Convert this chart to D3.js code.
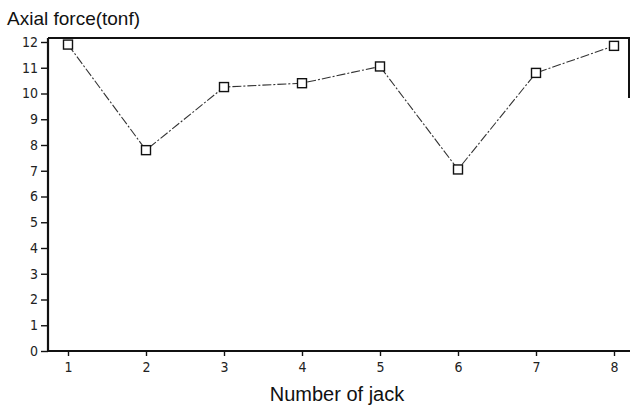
<!DOCTYPE html>
<html>
<head>
<meta charset="utf-8">
<script src="https://cdn.jsdelivr.net/npm/d3@7"></script>
<style>
  body { margin: 0; background: #fff; }
  svg { display: block; font-family: "Liberation Sans", Arial, sans-serif; }
</style>
</head>
<body>
<svg id="chart" width="632" height="408"></svg>
<script>
// data
const jacks = [1, 2, 3, 4, 5, 6, 7, 8];
const axialForce = [11.9, 7.8, 10.25, 10.4, 11.05, 7.05, 10.8, 11.85];
const yTicks = [0, 1, 2, 3, 4, 5, 6, 7, 8, 9, 10, 11, 12];

const svg = d3.select("#chart");
const width = 632, height = 408;
const margin = { top: 38, right: 2, bottom: 57, left: 48 };
const innerWidth = width - margin.left - margin.right;
const innerHeight = height - margin.top - margin.bottom;

const g = svg.append("g")
    .attr("transform", `translate(${margin.left},${margin.top})`);

const x = d3.scaleLinear()
    .domain([1, 8])
    .range([20, 566]);

const y = d3.scaleLinear()
    .domain([0, 12])
    .range([innerHeight, 4]);

// frame: top and right borders
g.append("line")
    .attr("x1", 0).attr("x2", innerWidth)
    .attr("y1", 0).attr("y2", 0)
    .attr("stroke", "#111").attr("stroke-width", 2);
g.append("line")
    .attr("x1", innerWidth - 1).attr("x2", innerWidth - 1)
    .attr("y1", 0).attr("y2", 60)
    .attr("stroke", "#111").attr("stroke-width", 2);

// axes
const xAxisG = g.append("g")
    .attr("transform", `translate(0,${innerHeight})`)
    .call(d3.axisBottom(x).tickValues(jacks).tickFormat(d3.format("d"))
        .tickSize(5).tickPadding(6).tickSizeOuter(0));
xAxisG.select(".domain").attr("d", `M0,0H${innerWidth}`);

const yAxisG = g.append("g")
    .call(d3.axisLeft(y).tickValues(yTicks).tickFormat(d3.format("d"))
        .tickSize(7).tickPadding(3).tickSizeOuter(0));
yAxisG.select(".domain").attr("d", `M0,${innerHeight}V0`);

g.selectAll(".domain").attr("stroke", "#111").attr("stroke-width", 2.2);
g.selectAll(".tick line").attr("stroke", "#111").attr("stroke-width", 1.4);
g.selectAll(".tick text")
    .attr("fill", "#222")
    .style("font-size", "14px")
    .style("font-family", "'DejaVu Sans Condensed', 'DejaVu Sans', sans-serif");

// line
const line = d3.line()
    .x((d, i) => x(jacks[i]))
    .y(d => y(d));

g.append("path")
    .datum(axialForce)
    .attr("fill", "none")
    .attr("stroke", "#333")
    .attr("stroke-width", 1.1)
    .attr("stroke-dasharray", "9,2,2,2")
    .attr("d", line);

// square markers
g.selectAll("rect.marker")
    .data(axialForce)
    .join("rect")
    .attr("class", "marker")
    .attr("x", (d, i) => x(jacks[i]) - 4.5)
    .attr("y", d => y(d) - 4.5)
    .attr("width", 9)
    .attr("height", 9)
    .attr("fill", "#fff")
    .attr("stroke", "#111")
    .attr("stroke-width", 1.4);

// labels
svg.append("text")
    .attr("x", 7).attr("y", 25)
    .attr("fill", "#111")
    .style("font-size", "19px")
    .text("Axial force(tonf)");

svg.append("text")
    .attr("x", 337).attr("y", 401)
    .attr("fill", "#111")
    .style("text-anchor", "middle")
    .style("font-size", "20px")
    .text("Number of jack");
</script>
</body>
</html>
